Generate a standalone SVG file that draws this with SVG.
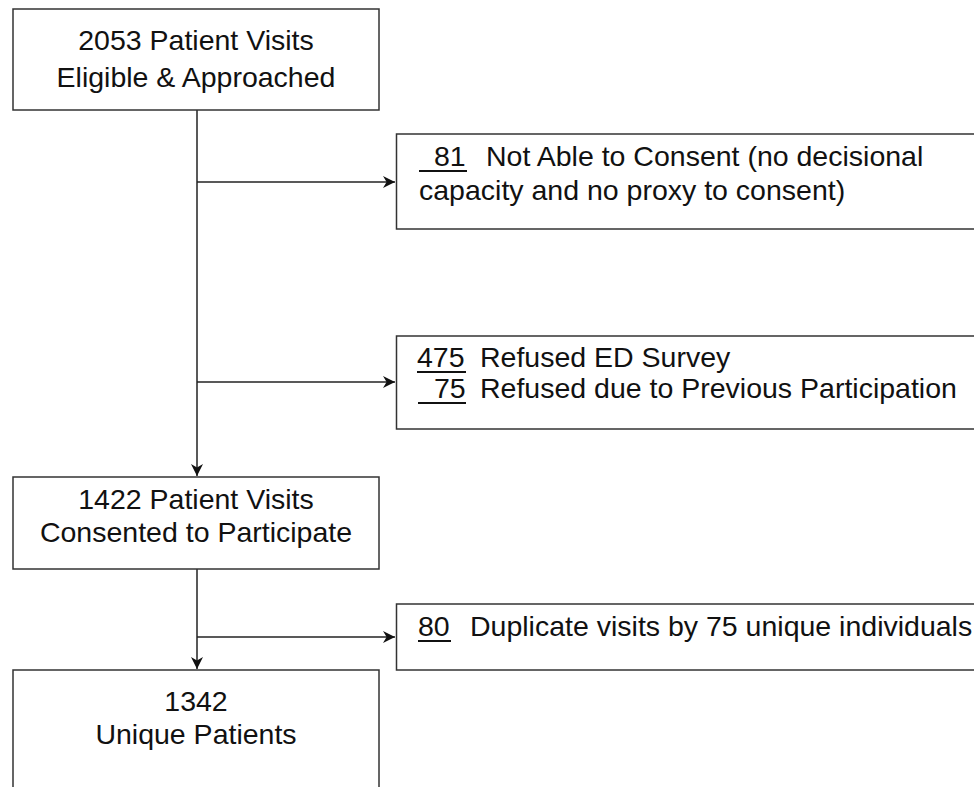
<svg xmlns="http://www.w3.org/2000/svg" width="974" height="787" viewBox="0 0 974 787">
<style>
.box{fill:#fff;stroke:#333;stroke-width:1.5}
.t{font-family:"Liberation Sans",Arial,sans-serif;font-size:28.5px;fill:#111}
.c{text-anchor:middle}
.ul{stroke:#111;stroke-width:2}
.ln{stroke:#222;stroke-width:1.5;fill:none}
</style>
<defs>
<marker id="ah" viewBox="0 0 10 10" refX="10" refY="5" markerWidth="13" markerHeight="12" markerUnits="userSpaceOnUse" orient="auto">
<path d="M0,0 L10,5 L0,10 L3,5 z" fill="#111"/>
</marker>
</defs>
<rect width="974" height="787" fill="#fff"/>
<g id="connectors">
<line class="ln" x1="197" y1="110" x2="197" y2="476" marker-end="url(#ah)"/>
<line class="ln" x1="197" y1="182" x2="395" y2="182" marker-end="url(#ah)"/>
<line class="ln" x1="197" y1="382" x2="395" y2="382" marker-end="url(#ah)"/>
<line class="ln" x1="197" y1="569" x2="197" y2="669" marker-end="url(#ah)"/>
<line class="ln" x1="197" y1="637" x2="395" y2="637" marker-end="url(#ah)"/>
</g>
<g id="n1">
<rect class="box" x="13" y="9" width="366" height="101"/>
<text class="t c" x="196" y="50">2053 Patient Visits</text>
<text class="t c" x="196" y="87">Eligible &amp; Approached</text>
</g>
<g id="n2">
<rect class="box" x="396.5" y="134" width="580" height="95"/>
<line class="ul" x1="419" y1="171" x2="467" y2="171"/>
<text class="t" x="434" y="166">81</text>
<text class="t" x="486" y="166">Not Able to Consent (no decisional</text>
<text class="t" x="419" y="200">capacity and no proxy to consent)</text>
</g>
<g id="n3">
<rect class="box" x="396.5" y="336" width="580" height="93"/>
<line class="ul" x1="417" y1="372" x2="466" y2="372"/>
<text class="t" x="417" y="367">475</text>
<text class="t" x="480" y="367">Refused ED Survey</text>
<line class="ul" x1="418" y1="403" x2="466" y2="403"/>
<text class="t" x="434" y="398">75</text>
<text class="t" x="480" y="398">Refused due to Previous Participation</text>
</g>
<g id="n4">
<rect class="box" x="13" y="477" width="366" height="92"/>
<text class="t c" x="196" y="509">1422 Patient Visits</text>
<text class="t c" x="196" y="542">Consented to Participate</text>
</g>
<g id="n5">
<rect class="box" x="396.5" y="604" width="580" height="66"/>
<line class="ul" x1="418" y1="641" x2="451" y2="641"/>
<text class="t" x="418" y="636">80</text>
<text class="t" x="470" y="636">Duplicate visits by 75 unique individuals</text>
</g>
<g id="n6">
<rect class="box" x="13" y="670" width="366" height="130"/>
<text class="t c" x="196" y="711">1342</text>
<text class="t c" x="196" y="744">Unique Patients</text>
</g>
</svg>
